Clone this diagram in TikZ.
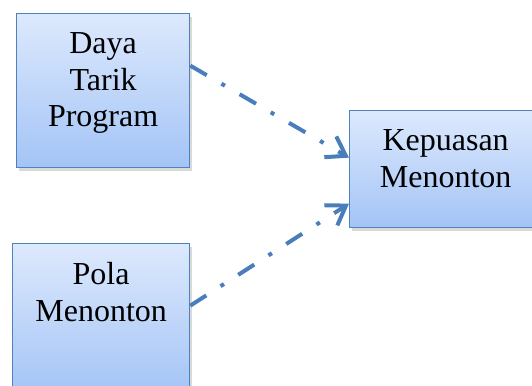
\documentclass[tikz,border=0pt]{standalone}
\usepackage{fontspec}
\setmainfont{Liberation Serif}
\newfontfamily\boxfont{Liberation Serif}
\usetikzlibrary{arrows.meta,shadows}
\definecolor{boxline}{RGB}{79,129,189}
\definecolor{boxtop}{RGB}{221,233,253}
\definecolor{boxbot}{RGB}{163,196,246}
\definecolor{arrowblue}{RGB}{74,126,187}
\newcommand{\boxtxt}[3]{\parbox[t][#2][t]{#1}{\centering\vspace*{19pt}#3}}

\begin{document}
\begin{tikzpicture}[x=1pt, y=-1pt]

\tikzstyle{box}=[draw=boxline, line width=1.3pt, top color=boxtop, bottom color=boxbot, inner sep=0pt, anchor=north west, drop shadow={shadow xshift=2pt, shadow yshift=-3pt, opacity=0.3}, font=\boxfont\fontsize{32}{36.5}\selectfont]
\tikzstyle{arrow}=[-{Straight Barb[length=18pt, width=24pt]}, draw=arrowblue, line width=4pt, dash pattern=on 19pt off 17pt on 4pt off 17pt]

\useasboundingbox (0,0) rectangle (532,385);

% Left: the two factors
\node[box] (daya) at (16,13) {\boxtxt{173pt}{154pt}{Daya\\Tarik\\Program}};
\node[box] (pola) at (12,243) {\boxtxt{177pt}{152pt}{Pola\\Menonton}};

% Right: the outcome
\node[box] (puas) at (349,110) {\boxtxt{192pt}{117pt}{Kepuasan\\Menonton}};

\draw[arrow] ([yshift=25pt]daya.east) -- ([yshift=11.5pt]puas.west);
\draw[arrow] ([yshift=14pt]pola.east) -- ([yshift=-34.5pt]puas.west);

\end{tikzpicture}
\end{document}
